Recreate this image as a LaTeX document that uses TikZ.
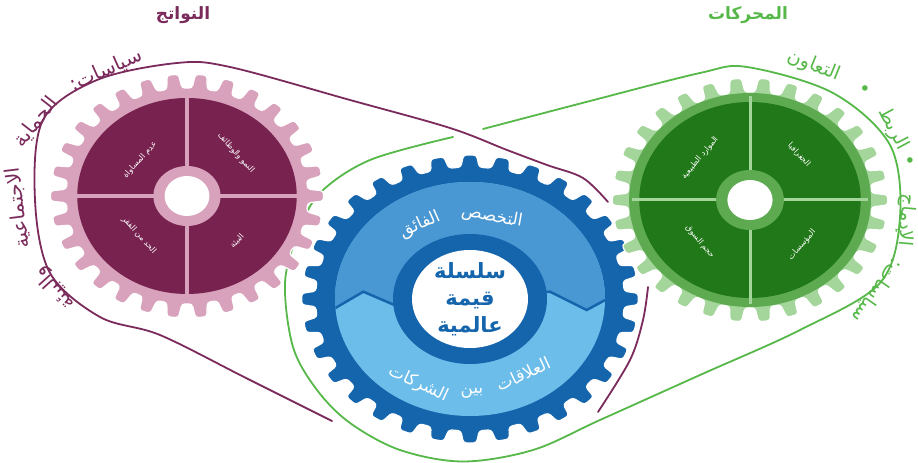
\documentclass[tikz,border=0pt]{standalone}
\usepackage{fontspec}
\usepackage{xcolor}
\usepackage{tikz}
\usetikzlibrary{arrows,shapes}
\newfontfamily\arabicfont[Script=Arabic]{DejaVu Sans}
\TeXXeTstate=1

\definecolor{plum}{HTML}{77224F}
\definecolor{rosepink}{HTML}{D9A2BC}
\definecolor{beltpurple}{HTML}{7B2A5C}
\definecolor{leaf}{HTML}{56B848}
\definecolor{gearlight}{HTML}{A4D69B}
\definecolor{gearmid}{HTML}{5DAA51}
\definecolor{forest}{HTML}{207818}
\definecolor{navyblue}{HTML}{1565AD}
\definecolor{midblue}{HTML}{4A98D3}
\definecolor{skyblue}{HTML}{6DBDEA}

\newcommand{\rtl}[1]{\beginR #1\endR}
% teeth, tip radius, root radius, colour
\newcommand{\gear}[4]{%
  \filldraw[fill=#4, draw=white, line width=1.2pt, rounded corners=3pt]
    ({0.5*360/#1}:#3) \foreach \i in {1,...,#1}{
      -- ({(\i-0.3)*360/#1}:#3) -- ({(\i-0.2)*360/#1}:#2)
      -- ({(\i+0.2)*360/#1}:#2) -- ({(\i+0.3)*360/#1}:#3)} -- cycle;
}

\tikzset{
  belt/.style={line width=1.8pt, line cap=round},
  quad/.style={text=white, font=\arabicfont\fontsize{8}{9}\selectfont, inner sep=0pt},
  band/.style={text=white, font=\arabicfont\fontsize{17}{19}\selectfont, inner sep=0pt},
  outerleft/.style={text=beltpurple, font=\arabicfont\fontsize{20}{22}\selectfont, inner sep=0pt},
  outerright/.style={text=leaf, font=\arabicfont\fontsize{19}{21}\selectfont, inner sep=0pt},
  heading/.style={font=\arabicfont\bfseries\fontsize{17}{20}\selectfont, inner sep=0pt},
}

\begin{document}
\begin{tikzpicture}[x=1pt,y=1pt]
        \fill[white] (0,0) rectangle (918,463);
        \useasboundingbox (0,0) rectangle (918,463);

        % belts
        \draw[leaf, belt] plot[smooth, tension=0.55] coordinates {(483,334) (590,362) (700,390) (747,396) (833,370) (890,318) (900,246) (880,180) (800,133) (700,88) (600,43) (533,13) (463,1.5) (400,13) (350,40) (317,73) (293,116) (285,180) (298,230) (320,270) (370,303) (453,326)};
        \draw[beltpurple, belt] plot[smooth, tension=0.55] coordinates {(332,42) (246,85) (160,128) (100,146) (50,190) (35,263) (43,343) (97,383) (177,400) (230,396) (350,363) (450,335) (507,313) (547,298) (583,285) (608,261)};
        \draw[beltpurple, belt] plot[smooth, tension=0.55] coordinates {(648,176) (643,143) (630,103) (598,51)};

        % outputs gear
        \begin{scope}[shift={(187,267)}, xscale=1.12]
          \gear{30}{122}{108}{rosepink}
          \fill[plum] (0,0) circle (98);
          \draw[rosepink, line width=4pt] (-102,0) -- (102,0) (0,-102) -- (0,102);
          \fill[rosepink] (0,0) circle (30);
          \fill[white] (0,0) circle (20);
        \end{scope}

        % value chain gear
        \begin{scope}[shift={(470,164)}, xscale=1.17]
          \gear{32}{144}{132}{navyblue}
        \end{scope}
        \fill[skyblue] (470,164) ellipse [x radius=135, y radius=117];
        \begin{scope}[shift={(470,164)}]
          \clip (0,0) ellipse [x radius=135, y radius=117];
          \fill[midblue] (-150,-18) -- (-106.7,7.3) -- (-71.7,-7.7) -- (80,7.3) -- (116.7,-11) -- (150,7) -- (150,140) -- (-150,140) -- cycle;
          \draw[navyblue, line width=2.5pt] (-150,-18) -- (-106.7,7.3) -- (-71.7,-7.7) -- (80,7.3) -- (116.7,-11) -- (150,7);
        \end{scope}
        \fill[navyblue] (470,164) ellipse [x radius=77, y radius=65];
        \fill[white] (470,164) ellipse [x radius=58, y radius=49];

        % drivers gear
        \begin{scope}[shift={(750,263)}, xscale=1.13]
          \gear{30}{122}{108}{gearlight}
          \fill[gearmid] (0,0) circle (107);
          \fill[forest] (0,0) circle (98);
          \draw[gearlight, line width=3pt] (-104,0) -- (104,0) (0,-104) -- (0,104);
          \fill[gearmid] (0,0) circle (30);
          \fill[white] (0,0) circle (20);
        \end{scope}

        % headings
        \node[heading, text=beltpurple] (outputs) at (183,448) {\rtl{النواتج}};
        \node[heading, text=leaf] (drivers) at (748,448) {\rtl{المحركات}};

        % left belt text
        \node[outerleft, rotate=24] (lp1) at (106,393) {\rtl{سياسات:}};
        \node[outerleft, rotate=52] (lp2) at (36,341) {\rtl{الحماية}};
        \node[outerleft, rotate=97] (lp3) at (18,255) {\rtl{الاجتماعية}};
        \node[outerleft, rotate=132] (lp4) at (55,175) {\rtl{والبيئة}};

        % right belt text
        \node[outerright, rotate=-22] (rp1) at (814,397) {\rtl{التعاون}};
        \node[outerright] (rd1) at (865,372) {•};
        \node[outerright, rotate=-62] (rp2) at (893,334) {\rtl{الربط}};
        \node[outerright] (rd2) at (910,300) {•};
        \node[outerright, rotate=-95] (rp3) at (906,243) {\rtl{الإدماج}};
        \node[outerright, rotate=-125] (rp4) at (877,172) {\rtl{سياسات:}};

        % outputs quadrants
        \node[quad, rotate=48] (q1) at (140,303) {\rtl{عدم المساواة}};
        \node[quad, rotate=-48] (q2) at (236,310) {\rtl{النمو والوظائف}};
        \node[quad, rotate=-48] (q3) at (139,228) {\rtl{الحد من الفقر}};
        \node[quad, rotate=48] (q4) at (237,222) {\rtl{البيئة}};

        % drivers quadrants
        \node[quad, rotate=50] (g1) at (700,305) {\rtl{الموارد الطبيعية}};
        \node[quad, rotate=-47] (g2) at (799,308) {\rtl{الجغرافيا}};
        \node[quad, rotate=-50] (g3) at (700,221) {\rtl{حجم السوق}};
        \node[quad, rotate=49] (g4) at (802,218) {\rtl{المؤسسات}};

        % value chain bands
        \node[band, rotate=-10] (b1) at (492,246) {\rtl{التخصص}};
        \node[band, rotate=24] (b2) at (420,238) {\rtl{الفائق}};
        \node[band, rotate=25] (b3) at (523,89) {\rtl{العلاقات}};
        \node[band, rotate=3] (b4) at (472,70) {\rtl{بين}};
        \node[band, rotate=-25] (b5) at (418,79) {\rtl{الشركات}};
        \node[align=center, text=navyblue, font=\arabicfont\bfseries\fontsize{21}{27}\selectfont] (gvc) at (470,164) {\rtl{سلسلة}\\\rtl{قيمة}\\\rtl{عالمية}};
\end{tikzpicture}
\end{document}
